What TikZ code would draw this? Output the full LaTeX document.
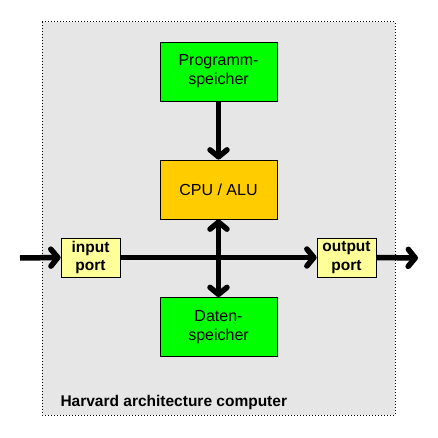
\documentclass[tikz,border=0pt]{standalone}
\usepackage{fontspec}
\setmainfont{Liberation Sans}
\usetikzlibrary{arrows.meta}

\definecolor{memgreen}{HTML}{00FF00}
\definecolor{cpuorange}{HTML}{FFCC00}
\definecolor{portyellow}{HTML}{FFFF99}
\definecolor{framegray}{HTML}{E6E6E6}

\tikzset{
  barb/.tip={Straight Barb[length=7pt,width=17pt,line cap=round,line join=round]},
  unit/.style={draw=black,line width=0.8pt,minimum width=117pt,minimum height=59pt,
    inner sep=0pt,align=center,font=\fontsize{16}{19}\selectfont},
  portbox/.style={draw=black,line width=0.8pt,fill=portyellow,minimum width=59pt,
    minimum height=39pt,inner sep=0pt,align=center,font=\fontsize{15.5}{18.5}\selectfont\bfseries},
  bus/.style={line width=5.5pt,-barb},
  busboth/.style={line width=5.5pt,barb-barb},
}

\begin{document}
\begin{tikzpicture}[x=1pt,y=-1pt]
\useasboundingbox (0,0) rectangle (437,438);
\draw[fill=framegray,dotted,line width=1pt] (42,22) rectangle (395,415);

\node[unit,fill=memgreen] (prog) at (218.5,71.5) {Programm-\\speicher};
\node[unit,fill=cpuorange] (cpu) at (218.5,189.5) {CPU / ALU};
\node[unit,fill=memgreen] (daten) at (218.5,327) {Daten-\\speicher};
\node[portbox] (in) at (90.5,257.5) {input\\port};
\node[portbox] (out) at (346.5,257.5) {output\\port};
\node[anchor=base west,font=\fontsize{15.5}{18}\selectfont\bfseries] (title) at (57,406) {Harvard architecture computer};

\coordinate (src) at (20,258);
\coordinate (dst) at (418,258);

\draw[bus] (src) -- (in.west);
\draw[bus] (in.east) -- (out.west);
\draw[bus] (out.east) -- (dst);
\draw[bus] (prog.south) -- (cpu.north);
\draw[busboth] (cpu.south) -- (daten.north);
\end{tikzpicture}
\end{document}
